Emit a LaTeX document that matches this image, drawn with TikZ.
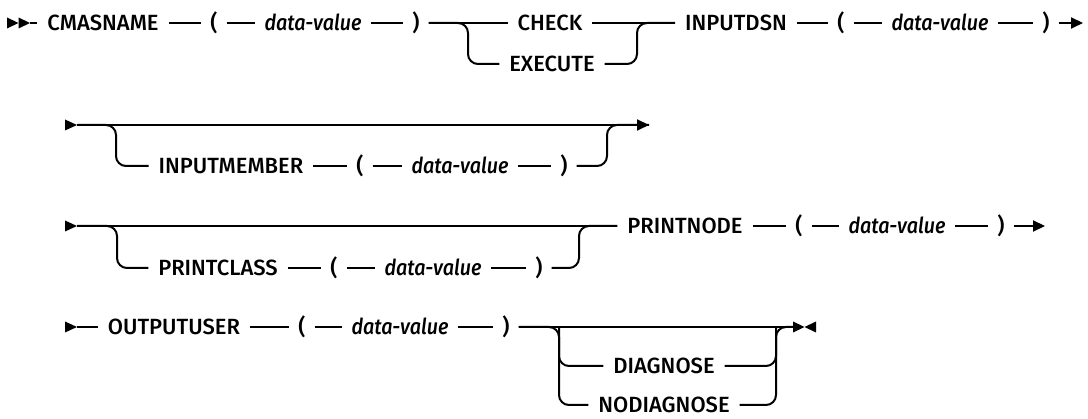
\documentclass[tikz,border=0pt]{standalone}
\usepackage{fontspec}
\setmainfont{Fira Sans}[UprightFont={* Medium}, ItalicFont={* Medium Italic}, ItalicFeatures={FakeStretch=0.9}]
\usetikzlibrary{arrows.meta}
\begin{document}
\begin{tikzpicture}[x=1pt,y=-1pt, line width=2pt,
  kw/.style={inner xsep=9pt, inner ysep=2pt, text height=15pt, text depth=0pt, font=\fontsize{22}{25}\selectfont, anchor=center},
  var/.style={kw, font=\fontsize{22}{25}\selectfont\itshape},
  par/.style={kw, inner xsep=8pt},
  arr/.style={-{Triangle[length=12pt,width=11pt]}},
  rc/.style={rounded corners=10pt}]
\useasboundingbox (0,0) rectangle (1088,419);
% ---------- row 1 ----------
\coordinate (s1) at (30,23);
\fill (7,17.5) -- (18.5,23) -- (7,28.5) -- cycle;
\fill (18.5,17.5) -- (30,23) -- (18.5,28.5) -- cycle;
\node[kw] (cmas) at (103,23) {CMASNAME};
\node[par] (lp1) at (214,23) {(};
\node[var] (dv1) at (313,23) {data-value};
\node[par] (rp1) at (416,23) {)};
\node[kw] (check) at (550,23) {CHECK};
\node[kw] (exec) at (552,64) {EXECUTE};
\node[kw] (indsn) at (736,23) {INPUTDSN};
\node[par] (lp2) at (841,23) {(};
\node[var] (dv2) at (940,23) {data-value};
\node[par] (rp2) at (1046,23) {)};
\coordinate (e1) at (1083,23);
\coordinate (b1l) at (468,23);
\coordinate (b1r) at (637,23);
\draw (s1) -- (cmas.west);
\draw (cmas.east) -- (lp1.west);
\draw (lp1.east) -- (dv1.west);
\draw (dv1.east) -- (rp1.west);
\draw (rp1.east) -- (check.west);
\draw (check.east) -- (indsn.west);
\draw[rc] (rp1.east) -- (b1l) -- (b1l |- exec.west) -- (exec.west);
\draw[rc] (exec.east) -- (b1r |- exec.east) -- (b1r) -- (indsn.west);
\draw (indsn.east) -- (lp2.west);
\draw (lp2.east) -- (dv2.west);
\draw (dv2.east) -- (rp2.west);
\draw[arr] (rp2.east) -- (e1);
% ---------- row 2 ----------
\coordinate (s2) at (77,125);
\fill (65,119.5) -- (77,125) -- (65,130.5) -- cycle;
\coordinate (e2) at (649,125);
\coordinate (b2l) at (116,125);
\coordinate (b2r) at (607,125);
\node[kw] (inmem) at (231,166) {INPUTMEMBER};
\node[par] (lp3) at (360,166) {(};
\node[var] (dv3) at (460,166) {data-value};
\node[par] (rp3) at (564,166) {)};
\draw[arr] (s2) -- (e2);
\draw[rc] (s2) -- (b2l) -- (b2l |- inmem.west) -- (inmem.west);
\draw (inmem.east) -- (lp3.west);
\draw (lp3.east) -- (dv3.west);
\draw (dv3.east) -- (rp3.west);
\draw[rc] (rp3.east) -- (b2r |- rp3.east) -- (b2r) -- (e2);
% ---------- row 3 ----------
\coordinate (s3) at (77,226);
\fill (65,220.5) -- (77,226) -- (65,231.5) -- cycle;
\coordinate (b3l) at (117,226);
\coordinate (b3r) at (579,226);
\node[kw] (pcls) at (218,268) {PRINTCLASS};
\node[par] (lp4) at (334,268) {(};
\node[var] (dv4) at (433,268) {data-value};
\node[par] (rp4) at (539,268) {)};
\node[kw] (pnode) at (685,226) {PRINTNODE};
\node[par] (lp5) at (799,226) {(};
\node[var] (dv5) at (897,226) {data-value};
\node[par] (rp5) at (1001,226) {)};
\coordinate (e3) at (1045,226);
\draw (s3) -- (pnode.west);
\draw[rc] (s3) -- (b3l) -- (b3l |- pcls.west) -- (pcls.west);
\draw (pcls.east) -- (lp4.west);
\draw (lp4.east) -- (dv4.west);
\draw (dv4.east) -- (rp4.west);
\draw[rc] (rp4.east) -- (b3r |- rp4.east) -- (b3r) -- (pnode.west);
\draw (pnode.east) -- (lp5.west);
\draw (lp5.east) -- (dv5.west);
\draw (dv5.east) -- (rp5.west);
\draw[arr] (rp5.east) -- (e3);
% ---------- row 4 ----------
\coordinate (s4) at (77,327);
\fill (65,321.5) -- (77,327) -- (65,332.5) -- cycle;
\node[kw] (ouser) at (174,327) {OUTPUTUSER};
\node[par] (lp6) at (302,327) {(};
\node[var] (dv6) at (400,327) {data-value};
\node[par] (rp6) at (506,327) {)};
\coordinate (b4l) at (559,327);
\coordinate (b4r) at (776,327);
\node[kw] (diag) at (664,366) {DIAGNOSE};
\node[kw] (nodiag) at (664,405) {NODIAGNOSE};
\coordinate (e4) at (793,327);
\draw (s4) -- (ouser.west);
\draw (ouser.east) -- (lp6.west);
\draw (lp6.east) -- (dv6.west);
\draw (dv6.east) -- (rp6.west);
\draw (rp6.east) -- (e4);
\draw[rc] (rp6.east) -- (b4l) -- (b4l |- nodiag.west) -- (nodiag.west);
\draw[rc] (b4l) -- (b4l |- diag.west) -- (diag.west);
\draw[rc] (nodiag.east) -- (b4r |- nodiag.east) -- (b4r) -- (e4);
\draw[rc] (diag.east) -- (b4r |- diag.east) -- (b4r);
\fill (793,321.5) -- (804.5,327) -- (793,332.5) -- cycle;
\fill (816,321.5) -- (804.5,327) -- (816,332.5) -- cycle;
\end{tikzpicture}
\end{document}
